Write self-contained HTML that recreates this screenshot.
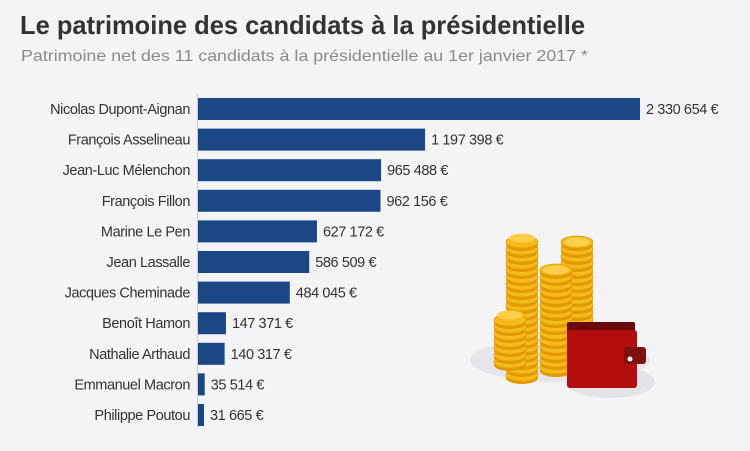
<!DOCTYPE html>
<html><head><meta charset="utf-8"><style>
body{margin:0;background:#f4f4f6;}
svg{display:block;font-family:"Liberation Sans",sans-serif;}
</style></head><body>
<svg id="c" width="750" height="451" viewBox="0 0 750 451">
<rect width="750" height="451" fill="#f4f4f6"/>
<text x="20" y="34" font-size="26" font-weight="bold" fill="#333" textLength="565" lengthAdjust="spacingAndGlyphs">Le patrimoine des candidats à la présidentielle</text>
<text x="21" y="61" font-size="16" fill="#8a8a8a" textLength="567" lengthAdjust="spacingAndGlyphs">Patrimoine net des 11 candidats à la présidentielle au 1er janvier 2017 *</text>
<line x1="197.5" y1="94" x2="197.5" y2="428" stroke="#ccc"/>
<g id="bars"></g>
<g>
<ellipse cx="560" cy="360" rx="90" ry="22" fill="#e6e6ea"/>
<ellipse cx="610" cy="382" rx="45" ry="16" fill="#e4e4e8"/>
<g id="coins"></g>
<rect x="567" y="322" width="68" height="16" rx="2" fill="#6b0c0c"/>
<rect x="567" y="330" width="70" height="58" rx="3" fill="#b30d0d"/>
<rect x="624" y="347" width="22" height="17" rx="3" fill="#7e1010"/>
<circle cx="630" cy="359" r="2.5" fill="#fff"/>
</g>
</svg>
<script>
const names=["Nicolas Dupont-Aignan","François Asselineau","Jean-Luc Mélenchon","François Fillon","Marine Le Pen","Jean Lassalle","Jacques Cheminade","Benoît Hamon","Nathalie Arthaud","Emmanuel Macron","Philippe Poutou"];
const values=[2330654,1197398,965488,962156,627172,586509,484045,147371,140317,35514,31665];
const labels=["2 330 654 €","1 197 398 €","965 488 €","962 156 €","627 172 €","586 509 €","484 045 €","147 371 €","140 317 €","35 514 €","31 665 €"];
const NS="http://www.w3.org/2000/svg";
const x0=198, xMax=640, vMax=2330654;
const xs=v=>x0+(v/vMax)*(xMax-x0);
const ys=i=>98+i*30.6;
const g=document.getElementById('bars');
function mk(t,a){const e=document.createElementNS(NS,t);for(const k in a)e.setAttribute(k,a[k]);return e;}
names.forEach((n,i)=>{
 const y=ys(i);
 const r=mk('rect',{x:x0,y:y,width:Math.max(1,xs(values[i])-x0),height:22,fill:'#1b4787'});
 
 
 g.appendChild(r);
 const t=mk('text',{x:190,y:y+16,'text-anchor':'end','font-size':14.5,fill:'#333','letter-spacing':'-0.4'});
 t.textContent=n;
 
 
 g.appendChild(t);
 const v=mk('text',{x:xs(values[i])+6,y:y+16,'font-size':14.5,fill:'#333','letter-spacing':'-0.4'});
 v.textContent=labels[i];
 
 
 g.appendChild(v);
});
const cg=document.getElementById('coins');
[[522,238,375],[577,242,340],[556,270,368],[510,315,362]].forEach(s=>{
 const [cx,top,bot]=s;
 for(let y=bot;y>=top;y-=7){
  cg.appendChild(mk('ellipse',{cx:cx,cy:y+3,rx:16,ry:6,fill:'#e09a00'}));
  cg.appendChild(mk('ellipse',{cx:cx,cy:y,rx:16,ry:6,fill:'#f7b81a',stroke:'#e3a107','stroke-width':0.8}));
 }
 cg.appendChild(mk('ellipse',{cx:cx,cy:top,rx:13,ry:4.5,fill:'#ffcf4a'}));
});
</script>
</body></html>
